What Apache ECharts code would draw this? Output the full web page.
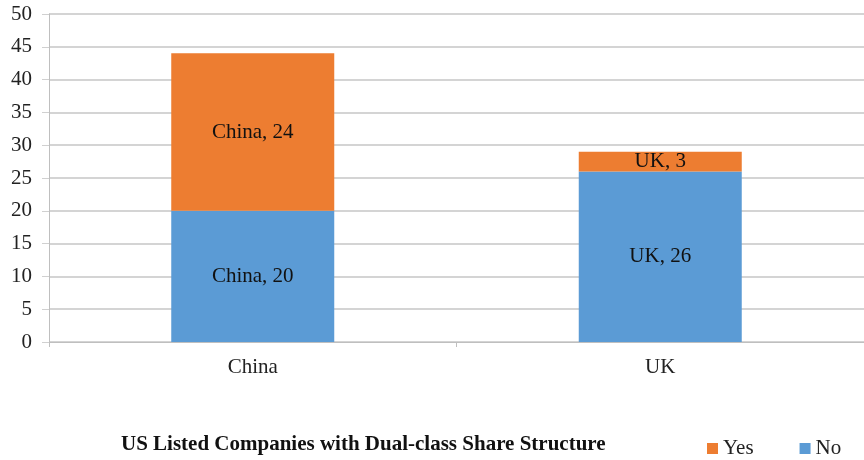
<!DOCTYPE html>
<html>
<head>
<meta charset="utf-8">
<script src="https://cdn.jsdelivr.net/npm/echarts@6/dist/echarts.min.js"></script>
<style>
  html, body { margin: 0; padding: 0; background: #fff; }
  #chart { width: 864px; height: 460px; }
</style>
</head>
<body>
<div id="chart"></div>
<script>
  var categories = ['China', 'UK'];
  var noValues = [20, 26];
  var yesValues = [24, 3];
  var yTicks = { min: 0, max: 50, interval: 5 };

  var serif = '"Liberation Serif", "DejaVu Serif", serif';
  var chart = echarts.init(document.getElementById('chart'));

  var labelFmt = function (p) { return p.name + ', ' + p.value; };

  chart.setOption({
    animation: false,
    textStyle: { fontFamily: serif },
    title: {
      text: 'US Listed Companies with Dual-class Share Structure',
      left: 116,
      top: 429,
      textStyle: { fontFamily: serif, fontSize: 21, fontWeight: 'bold', color: '#111' }
    },
    legend: {
      data: ['Yes', 'No'],
      left: 702,
      top: 433,
      icon: 'rect',
      itemWidth: 11,
      itemHeight: 11,
      itemGap: 46,
      textStyle: { fontFamily: serif, fontSize: 21, color: '#222' }
    },
    grid: { left: 49, right: -5, top: 14, bottom: 118, containLabel: false },
    xAxis: {
      type: 'category',
      data: categories,
      axisLine: { lineStyle: { color: '#bfbfbf', width: 1 } },
      axisTick: { show: true, length: 5, alignWithLabel: false, lineStyle: { color: '#bfbfbf' } },
      axisLabel: { fontFamily: serif, fontSize: 21, color: '#222', margin: 15 }
    },
    yAxis: {
      type: 'value',
      min: yTicks.min,
      max: yTicks.max,
      interval: yTicks.interval,
      axisLine: { show: true, lineStyle: { color: '#bfbfbf', width: 1 } },
      axisTick: { show: true, length: 7, lineStyle: { color: '#d0d0d0' } },
      splitLine: { lineStyle: { color: '#d4d4d4', width: 2 } },
      axisLabel: { fontFamily: serif, fontSize: 21, color: '#222', margin: 17 }
    },
    series: [
      {
        name: 'No',
        type: 'bar',
        stack: 'total',
        data: noValues,
        barWidth: '40%',
        itemStyle: { color: '#5b9bd5' },
        label: { show: true, position: 'inside', formatter: labelFmt, fontFamily: serif, fontSize: 21, color: '#111' }
      },
      {
        name: 'Yes',
        type: 'bar',
        stack: 'total',
        data: yesValues,
        barWidth: '40%',
        itemStyle: { color: '#ed7d31' },
        label: { show: true, position: 'inside', formatter: labelFmt, fontFamily: serif, fontSize: 21, color: '#111' }
      }
    ]
  });
</script>
</body>
</html>
